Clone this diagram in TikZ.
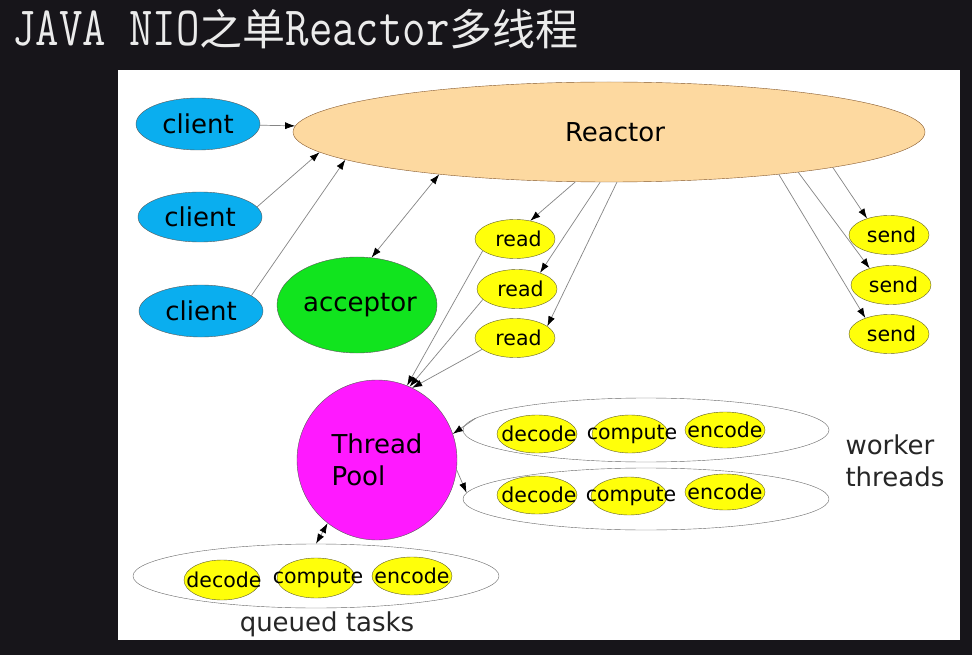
\documentclass[tikz,border=0pt]{standalone}
\usepackage{fontspec}
\setsansfont{DejaVu Sans}
\newfontfamily\cjkfont{Noto Sans CJK SC}
\usetikzlibrary{shapes.geometric,arrows.meta}
\definecolor{slate}{HTML}{17151A}
\definecolor{peach}{HTML}{FDD9A0}
\definecolor{skyblue}{HTML}{0AAEEF}
\definecolor{leaf}{HTML}{11E41E}
\definecolor{pink}{HTML}{FF19FF}
\definecolor{lemon}{HTML}{FFFF0A}
\definecolor{wire}{HTML}{858585}
\newcommand{\ctext}[1]{\makebox[0pt]{#1}}
\newcommand{\tall}[1]{\scalebox{1}[1.22]{#1}}
\begin{document}
\begin{tikzpicture}[x=1pt,y=1pt,
  >={Latex[length=10pt,width=7pt,color=black]},
  big/.style={ellipse,draw=black!65,inner sep=0pt,font=\sffamily\fontsize{26}{26}\selectfont},
  small/.style={ellipse,draw=black!40!olive,fill=lemon,inner sep=0pt,minimum width=80,minimum height=39,font=\sffamily\fontsize{20.5}{20.5}\selectfont},
  ring/.style={ellipse,draw=black!60,inner sep=0pt,minimum width=366,minimum height=64},
  link/.style={draw=wire,line width=0.7pt,->},
  both/.style={draw=wire,line width=0.7pt,<->}]
\fill [slate] (0,0) rectangle (972,-655);
\useasboundingbox (0,0) rectangle (972,-655);
\fill [white] (118,-70) rectangle (960,-640);
\node [anchor=base west,text=white!92!black,inner sep=0pt,font=\ttfamily\fontsize{45.5}{45.5}\selectfont] (title) at (12,-46) {\tall{JAVA NIO}{\cjkfont\fontsize{43}{43}\selectfont 之单}\tall{Reactor}{\cjkfont\fontsize{43}{43}\selectfont 多线程}};
\node [big,fill=peach,draw=brown!70!black,minimum width=632,minimum height=100] (reactor) at (609,-132) {\ctext{\hspace{12pt}Reactor}};
\node [big,fill=skyblue,minimum width=124,minimum height=52] (c1) at (198,-124) {\ctext{client}};
\node [big,fill=skyblue,minimum width=124,minimum height=50] (c2) at (200,-217) {\ctext{client}};
\node [big,fill=skyblue,minimum width=124,minimum height=52] (c3) at (201,-311) {\ctext{client}};
\node [big,fill=leaf,minimum width=160,minimum height=96] (acceptor) at (357,-305) {\ctext{\hspace{6pt}acceptor}};
\node [circle,draw=black!65,fill=pink,inner sep=0pt,minimum size=160,align=left,font=\sffamily\fontsize{26}{32}\selectfont] (pool) at (377,-460) {Thread\\Pool};
\node [small] (read1) at (515,-239) {\ctext{\hspace{7pt}read}};
\node [small] (read2) at (517,-289) {\ctext{\hspace{7pt}read}};
\node [small] (read3) at (515,-338) {\ctext{\hspace{7pt}read}};
\node [small] (send1) at (889,-235) {\ctext{\hspace{5pt}send}};
\node [small] (send2) at (891,-285) {\ctext{\hspace{5pt}send}};
\node [small] (send3) at (889,-334) {\ctext{\hspace{5pt}send}};
\node [ring] (worker1) at (646,-430) {};
\node [ring,minimum height=62] (worker2) at (646,-499) {};
\node [ring] (queue) at (316,-576) {};
\node [small,minimum width=80,minimum height=38] (decode1) at (537,-434) {\ctext{\hspace{4pt}decode}};
\node [small,minimum width=76,minimum height=38] (compute1) at (630,-434) {\ctext{\hspace{4pt}compute}};
\node [small,minimum width=80,minimum height=36] (encode1) at (725,-430) {\ctext{encode}};
\node [small,minimum width=80,minimum height=38] (decode2) at (537,-495) {\ctext{\hspace{4pt}decode}};
\node [small,minimum width=76,minimum height=38] (compute2) at (629,-496) {\ctext{\hspace{4pt}compute}};
\node [small,minimum width=80,minimum height=36] (encode2) at (725,-492) {\ctext{encode}};
\node [small,minimum width=76,minimum height=40] (decode3) at (222,-580) {\ctext{\hspace{4pt}decode}};
\node [small,minimum width=78,minimum height=40] (compute3) at (316,-578) {\ctext{\hspace{4pt}compute}};
\node [small,minimum width=80,minimum height=38] (encode3) at (412,-576) {\ctext{encode}};
\node [font=\sffamily\fontsize{26}{26}\selectfont,text=black!85] (queued) at (327,-624) {queued tasks};
\node [anchor=west,align=left,font=\sffamily\fontsize{26}{32}\selectfont,text=black!85] (workers) at (842,-461) {worker\\threads};
\draw [link] (c1) -- (reactor);
\draw [link] (c2.10) -- (reactor.184);
\draw [link] (c3.17) -- (reactor.186);
\draw [both] (acceptor.73) -- (reactor.194);
\draw [link] (reactor.236) -- (read1.50);
\draw [link] (reactor.260) -- (read2.35);
\draw [link] (reactor.279) -- (read3.20);
\draw [link] (read1.200) -- (pool.68);
\draw [link] (read2.197) -- (pool.66);
\draw [link] (read3.199) -- (pool.64);
\draw [link] (reactor.351) -- (send1.143);
\draw [link] (reactor.348) -- (send2.142);
\draw [link] (reactor.346) -- (send3.146);
\draw [link] (worker1.176) -- (pool.19);
\draw [link] (pool.353) -- (worker2.178);
\draw [both] (queue.north) -- (pool.232);
\end{tikzpicture}
\end{document}
